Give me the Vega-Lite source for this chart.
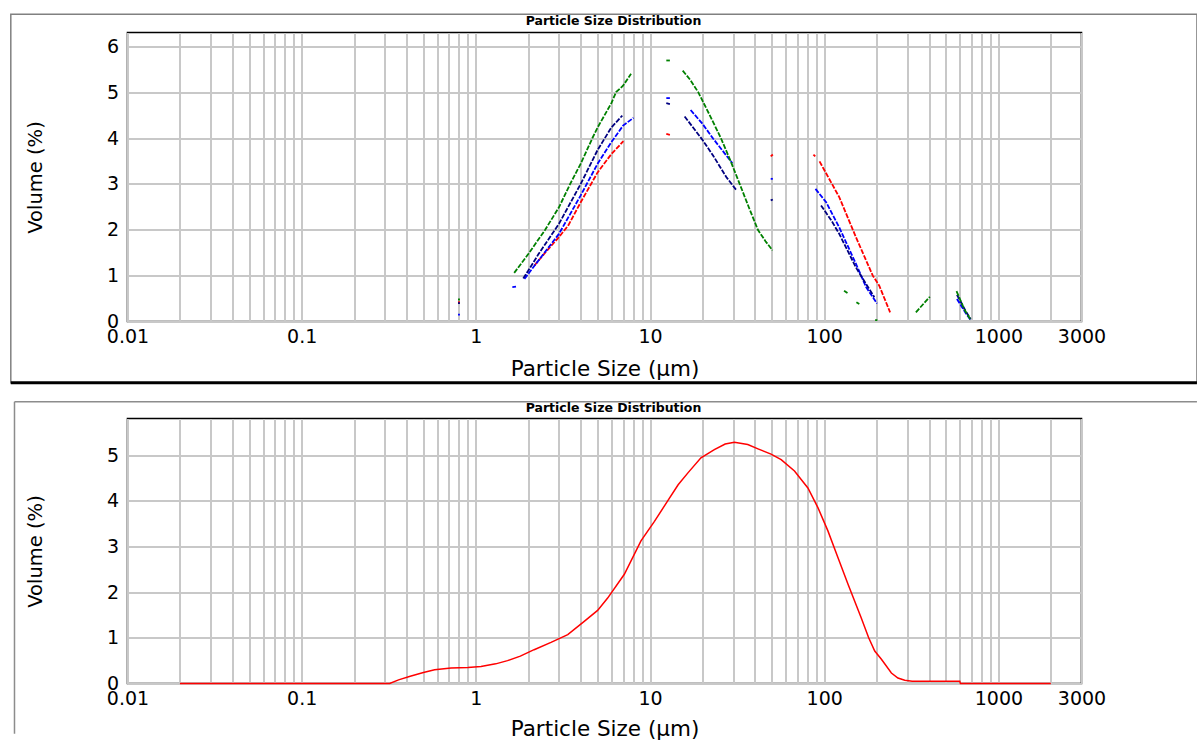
{
  "$schema": "https://vega.github.io/schema/vega-lite/v6.json",
  "background": "white",
  "padding": {"left": 8.5, "top": 12.5, "right": 0, "bottom": 0},
  "spacing": 97,
  "bounds": "flush",
  "config": {
    "font": "DejaVu Sans",
    "view": {"stroke": "#000000", "strokeWidth": 1.6},
    "axis": {
      "labelFont": "DejaVu Sans", "titleFont": "DejaVu Sans",
      "labelColor": "#000000", "titleColor": "#000000",
      "labelFontSize": 19, "titleFontSize": 21, "titleFontWeight": "normal",
      "ticks": false, "domain": false, "grid": true,
      "gridColor": "#c8c8c8", "gridWidth": 2, "gridOpacity": 1,
      "labelOverlap": false, "labelFlush": false, "labelBound": false
    },
    "title": {"font": "DejaVu Sans", "fontSize": 12.5, "fontWeight": "bold", "color": "#000000", "anchor": "middle", "frame": "group", "dx": 9}
  },
  "datasets": {
    "top": [
      {"s": "red", "g": "r0", "x": 0.79, "y": 0.42}, {"s": "red", "g": "r0", "x": 0.81, "y": 0.42},
      {"s": "red", "g": "r1", "x": 2.17, "y": 1.22}, {"s": "red", "g": "r1", "x": 2.5, "y": 1.5}, {"s": "red", "g": "r1", "x": 3.0, "y": 1.84}, {"s": "red", "g": "r1", "x": 3.4, "y": 2.1}, {"s": "red", "g": "r1", "x": 4.0, "y": 2.6}, {"s": "red", "g": "r1", "x": 5.0, "y": 3.25}, {"s": "red", "g": "r1", "x": 6.0, "y": 3.65}, {"s": "red", "g": "r1", "x": 7.03, "y": 3.93},
      {"s": "red", "g": "r2", "x": 12.4, "y": 4.09}, {"s": "red", "g": "r2", "x": 13.0, "y": 4.07},
      {"s": "red", "g": "r3", "x": 49.3, "y": 3.6}, {"s": "red", "g": "r3", "x": 50.7, "y": 3.64},
      {"s": "red", "g": "r4", "x": 86.7, "y": 3.64}, {"s": "red", "g": "r4", "x": 88.8, "y": 3.6},
      {"s": "red", "g": "r5", "x": 94, "y": 3.49}, {"s": "red", "g": "r5", "x": 122, "y": 2.71}, {"s": "red", "g": "r5", "x": 152, "y": 1.84}, {"s": "red", "g": "r5", "x": 190, "y": 1.0}, {"s": "red", "g": "r5", "x": 207, "y": 0.78}, {"s": "red", "g": "r5", "x": 239, "y": 0.2},
      {"s": "blue", "g": "b0", "x": 0.79, "y": 0.15}, {"s": "blue", "g": "b0", "x": 0.81, "y": 0.15},
      {"s": "blue", "g": "b1", "x": 1.62, "y": 0.75}, {"s": "blue", "g": "b1", "x": 1.7, "y": 0.76},
      {"s": "blue", "g": "b2", "x": 1.9, "y": 0.93}, {"s": "blue", "g": "b2", "x": 2.0, "y": 1.04}, {"s": "blue", "g": "b2", "x": 3.0, "y": 1.91}, {"s": "blue", "g": "b2", "x": 4.0, "y": 2.75}, {"s": "blue", "g": "b2", "x": 5.0, "y": 3.44}, {"s": "blue", "g": "b2", "x": 6.0, "y": 3.91}, {"s": "blue", "g": "b2", "x": 7.0, "y": 4.27}, {"s": "blue", "g": "b2", "x": 8.03, "y": 4.44},
      {"s": "blue", "g": "b3", "x": 12.4, "y": 4.87}, {"s": "blue", "g": "b3", "x": 13.0, "y": 4.87},
      {"s": "blue", "g": "b4", "x": 17.1, "y": 4.61}, {"s": "blue", "g": "b4", "x": 20, "y": 4.31}, {"s": "blue", "g": "b4", "x": 23, "y": 3.99}, {"s": "blue", "g": "b4", "x": 27.4, "y": 3.62}, {"s": "blue", "g": "b4", "x": 29.7, "y": 3.45},
      {"s": "blue", "g": "b5", "x": 49.3, "y": 3.11}, {"s": "blue", "g": "b5", "x": 50.7, "y": 3.11},
      {"s": "blue", "g": "b6", "x": 89.1, "y": 2.89}, {"s": "blue", "g": "b6", "x": 102.6, "y": 2.6}, {"s": "blue", "g": "b6", "x": 122, "y": 2.05}, {"s": "blue", "g": "b6", "x": 152, "y": 1.26}, {"s": "blue", "g": "b6", "x": 174, "y": 0.75}, {"s": "blue", "g": "b6", "x": 201, "y": 0.39},
      {"s": "blue", "g": "b7", "x": 578, "y": 0.49}, {"s": "blue", "g": "b7", "x": 610, "y": 0.35}, {"s": "blue", "g": "b7", "x": 650, "y": 0.18}, {"s": "blue", "g": "b7", "x": 690, "y": 0.04},
      {"s": "navy", "g": "n0", "x": 0.79, "y": 0.4}, {"s": "navy", "g": "n0", "x": 0.81, "y": 0.4},
      {"s": "navy", "g": "n1", "x": 1.87, "y": 0.94}, {"s": "navy", "g": "n1", "x": 2.0, "y": 1.11}, {"s": "navy", "g": "n1", "x": 2.29, "y": 1.47}, {"s": "navy", "g": "n1", "x": 3.0, "y": 2.13}, {"s": "navy", "g": "n1", "x": 4.0, "y": 3.0}, {"s": "navy", "g": "n1", "x": 5.0, "y": 3.74}, {"s": "navy", "g": "n1", "x": 6.0, "y": 4.23}, {"s": "navy", "g": "n1", "x": 6.93, "y": 4.49},
      {"s": "navy", "g": "n2", "x": 12.4, "y": 4.76}, {"s": "navy", "g": "n2", "x": 13.0, "y": 4.74},
      {"s": "navy", "g": "n3", "x": 15.8, "y": 4.47}, {"s": "navy", "g": "n3", "x": 20, "y": 3.96}, {"s": "navy", "g": "n3", "x": 23, "y": 3.62}, {"s": "navy", "g": "n3", "x": 27.4, "y": 3.15}, {"s": "navy", "g": "n3", "x": 31.5, "y": 2.85},
      {"s": "navy", "g": "n4", "x": 49.3, "y": 2.64}, {"s": "navy", "g": "n4", "x": 50.7, "y": 2.66},
      {"s": "navy", "g": "n5", "x": 95.9, "y": 2.53}, {"s": "navy", "g": "n5", "x": 110, "y": 2.2}, {"s": "navy", "g": "n5", "x": 122, "y": 1.91}, {"s": "navy", "g": "n5", "x": 152, "y": 1.18}, {"s": "navy", "g": "n5", "x": 175, "y": 0.8}, {"s": "navy", "g": "n5", "x": 194, "y": 0.53},
      {"s": "navy", "g": "n6", "x": 578, "y": 0.58}, {"s": "navy", "g": "n6", "x": 610, "y": 0.42}, {"s": "navy", "g": "n6", "x": 650, "y": 0.22}, {"s": "navy", "g": "n6", "x": 693, "y": 0.05},
      {"s": "green", "g": "g0", "x": 0.79, "y": 0.48}, {"s": "green", "g": "g0", "x": 0.81, "y": 0.48},
      {"s": "green", "g": "g1", "x": 1.66, "y": 1.06}, {"s": "green", "g": "g1", "x": 2.0, "y": 1.47}, {"s": "green", "g": "g1", "x": 2.5, "y": 2.0}, {"s": "green", "g": "g1", "x": 3.0, "y": 2.49}, {"s": "green", "g": "g1", "x": 3.48, "y": 3.0}, {"s": "green", "g": "g1", "x": 4.0, "y": 3.44}, {"s": "green", "g": "g1", "x": 4.67, "y": 4.0}, {"s": "green", "g": "g1", "x": 5.0, "y": 4.23}, {"s": "green", "g": "g1", "x": 6.0, "y": 4.76}, {"s": "green", "g": "g1", "x": 6.38, "y": 5.0}, {"s": "green", "g": "g1", "x": 7.0, "y": 5.14}, {"s": "green", "g": "g1", "x": 7.78, "y": 5.4},
      {"s": "green", "g": "g2", "x": 12.4, "y": 5.69}, {"s": "green", "g": "g2", "x": 13.0, "y": 5.69},
      {"s": "green", "g": "g3", "x": 15.4, "y": 5.47}, {"s": "green", "g": "g3", "x": 17, "y": 5.27}, {"s": "green", "g": "g3", "x": 18.9, "y": 5.0}, {"s": "green", "g": "g3", "x": 22, "y": 4.5}, {"s": "green", "g": "g3", "x": 25.5, "y": 4.0}, {"s": "green", "g": "g3", "x": 29, "y": 3.5}, {"s": "green", "g": "g3", "x": 32.7, "y": 3.0}, {"s": "green", "g": "g3", "x": 37, "y": 2.48}, {"s": "green", "g": "g3", "x": 41.6, "y": 2.0}, {"s": "green", "g": "g3", "x": 46, "y": 1.75}, {"s": "green", "g": "g3", "x": 50.5, "y": 1.55},
      {"s": "green", "g": "g4", "x": 130, "y": 0.67}, {"s": "green", "g": "g4", "x": 136, "y": 0.62},
      {"s": "green", "g": "g5", "x": 153, "y": 0.42}, {"s": "green", "g": "g5", "x": 159, "y": 0.38},
      {"s": "green", "g": "g6", "x": 196, "y": 0.03}, {"s": "green", "g": "g6", "x": 202, "y": 0.03},
      {"s": "green", "g": "g7", "x": 336, "y": 0.2}, {"s": "green", "g": "g7", "x": 404, "y": 0.54},
      {"s": "green", "g": "g8", "x": 575, "y": 0.66}, {"s": "green", "g": "g8", "x": 600, "y": 0.5}, {"s": "green", "g": "g8", "x": 640, "y": 0.25}, {"s": "green", "g": "g8", "x": 690, "y": 0.05}
    ],
    "bottom": [
      {"x": 0.02, "y": 0}, {"x": 0.32, "y": 0}, {"x": 0.36, "y": 0.08}, {"x": 0.42, "y": 0.16}, {"x": 0.5, "y": 0.24}, {"x": 0.58, "y": 0.3}, {"x": 0.72, "y": 0.34}, {"x": 0.9, "y": 0.35}, {"x": 1.07, "y": 0.37}, {"x": 1.3, "y": 0.43}, {"x": 1.52, "y": 0.5}, {"x": 1.8, "y": 0.6}, {"x": 2.16, "y": 0.74}, {"x": 2.7, "y": 0.9}, {"x": 3.37, "y": 1.07}, {"x": 4.19, "y": 1.36}, {"x": 5.0, "y": 1.6}, {"x": 5.71, "y": 1.87}, {"x": 7.12, "y": 2.39}, {"x": 8.87, "y": 3.12}, {"x": 10.6, "y": 3.55}, {"x": 12.6, "y": 3.99}, {"x": 14.5, "y": 4.35}, {"x": 16.5, "y": 4.61}, {"x": 19.6, "y": 4.94}, {"x": 23.4, "y": 5.12}, {"x": 27, "y": 5.24}, {"x": 30.5, "y": 5.28}, {"x": 36.4, "y": 5.23}, {"x": 42, "y": 5.13}, {"x": 49.5, "y": 5.02}, {"x": 56.6, "y": 4.9}, {"x": 67.5, "y": 4.65}, {"x": 80.6, "y": 4.28}, {"x": 92, "y": 3.85}, {"x": 105, "y": 3.34}, {"x": 120, "y": 2.75}, {"x": 137, "y": 2.17}, {"x": 163, "y": 1.44}, {"x": 180, "y": 1.0}, {"x": 195, "y": 0.71}, {"x": 213, "y": 0.53}, {"x": 243, "y": 0.23}, {"x": 265, "y": 0.12}, {"x": 290, "y": 0.07}, {"x": 320, "y": 0.05}, {"x": 600, "y": 0.05}, {"x": 605, "y": 0}, {"x": 2000, "y": 0}
    ]
  },
  "vconcat": [
    {
      "width": 954, "height": 289,
      "title": {"text": "Particle Size Distribution", "offset": -14},
      "layer": [
        {
          "data": {"name": "top"},
          "mark": {"type": "line", "strokeWidth": 1.8, "strokeDash": [5, 1.5]},
          "encoding": {
            "x": {"field": "x", "type": "quantitative", "scale": {"type": "log", "domain": [0.01, 3000], "nice": false},
              "axis": {"title": "Particle Size (µm)", "grid": true, "titleFontSize": 21.5, "values": [0.01,0.02,0.03,0.04,0.05,0.06,0.07,0.08,0.09,0.1,0.2,0.3,0.4,0.5,0.6,0.7,0.8,0.9,1,2,3,4,5,6,7,8,9,10,20,30,40,50,60,70,80,90,100,200,300,400,500,600,700,800,900,1000,2000,3000],
                "labelExpr": "indexof([0.01,0.1,1,10,100,1000,3000], datum.value) >= 0 ? toString(datum.value) : ''", "labelPadding": 6, "titlePadding": 12}},
            "y": {"field": "y", "type": "quantitative", "scale": {"domain": [0, 6.3], "nice": false, "zero": false},
              "axis": {"title": "Volume (%)", "grid": true, "titleFontSize": 19.5, "values": [0,1,2,3,4,5,6], "labelPadding": 9, "titlePadding": 61}},
            "color": {"field": "s", "type": "nominal", "scale": {"domain": ["red","blue","navy","green"], "range": ["#ff0000","#0000ff","#000080","#008000"]}, "legend": null},
            "detail": {"field": "g"}
          }
        },
        {
          "data": {"values": [{"k": 1}]},
          "mark": {"type": "rect", "fillOpacity": 0, "stroke": "#808080", "strokeWidth": 1.5, "clip": false},
          "encoding": {"x": {"datum": 0.002138, "type": "quantitative"}, "x2": {"datum": 13800}, "y": {"datum": 6.7, "type": "quantitative"}, "y2": {"datum": -1.337}}
        },
        {
          "data": {"values": [{"k": 1}]},
          "mark": {"type": "rule", "stroke": "#000000", "strokeWidth": 3, "clip": false},
          "encoding": {"x": {"datum": 0.002138, "type": "quantitative"}, "x2": {"datum": 13800}, "y": {"datum": -1.337, "type": "quantitative"}}
        }
      ]
    },
    {
      "width": 954, "height": 265,
      "title": {"text": "Particle Size Distribution", "offset": -13},
      "layer": [
        {
          "data": {"name": "bottom"},
          "mark": {"type": "line", "strokeWidth": 1.5, "color": "#ff0000"},
          "encoding": {
            "x": {"field": "x", "type": "quantitative", "scale": {"type": "log", "domain": [0.01, 3000], "nice": false},
              "axis": {"title": "Particle Size (µm)", "grid": true, "titleFontSize": 21.5, "values": [0.01,0.02,0.03,0.04,0.05,0.06,0.07,0.08,0.09,0.1,0.2,0.3,0.4,0.5,0.6,0.7,0.8,0.9,1,2,3,4,5,6,7,8,9,10,20,30,40,50,60,70,80,90,100,200,300,400,500,600,700,800,900,1000,2000,3000],
                "labelExpr": "indexof([0.01,0.1,1,10,100,1000,3000], datum.value) >= 0 ? toString(datum.value) : ''", "labelPadding": 6, "titlePadding": 10}},
            "y": {"field": "y", "type": "quantitative", "scale": {"domain": [0, 5.8], "nice": false, "zero": false},
              "axis": {"title": "Volume (%)", "grid": true, "titleFontSize": 19.5, "values": [0,1,2,3,4,5], "labelPadding": 9, "titlePadding": 61}}
          }
        },
        {
          "data": {"values": [{"k": 1}]},
          "mark": {"type": "rule", "stroke": "#8c8c8c", "strokeWidth": 1.5, "clip": false},
          "encoding": {"x": {"datum": 0.002245, "type": "quantitative"}, "x2": {"datum": 13800}, "y": {"datum": 6.165, "type": "quantitative"}}
        },
        {
          "data": {"values": [{"k": 1}]},
          "mark": {"type": "rule", "stroke": "#8c8c8c", "strokeWidth": 1.5, "clip": false},
          "encoding": {"x": {"datum": 0.002245, "type": "quantitative"}, "y": {"datum": 6.165, "type": "quantitative"}, "y2": {"datum": -1.1}}
        }
      ]
    }
  ]
}
